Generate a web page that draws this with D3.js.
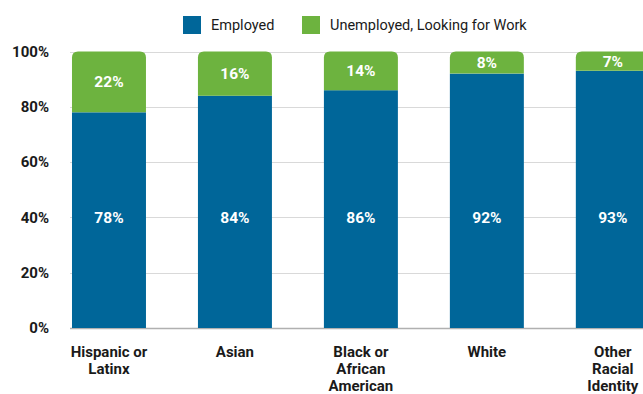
<!DOCTYPE html>
<html>
<head>
<meta charset="utf-8">
<script src="https://cdn.jsdelivr.net/npm/d3@7"></script>
<style>
  html, body { margin: 0; padding: 0; background: #fff; }
  svg { display: block; font-family: Roboto, "Liberation Sans", Arial, sans-serif; }
</style>
</head>
<body>
<svg id="chart" width="643" height="394"></svg>
<script>
// Employment status by racial/ethnic identity (share of respondents)
const categories = [
  ["Hispanic or", "Latinx"],
  ["Asian"],
  ["Black or", "African", "American"],
  ["White"],
  ["Other", "Racial", "Identity"]
];
const employed = [78, 84, 86, 92, 93];
const unemployed = [22, 16, 14, 8, 7];
const yTicks = [0, 20, 40, 60, 80, 100];
const seriesNames = ["Employed", "Unemployed, Looking for Work"];
const colors = ["#006699", "#6db33f"];

const svg = d3.select("#chart");
const W = 643, H = 394;
const margin = { top: 51.5, bottom: 66, left: 70 };

const y = d3.scaleLinear().domain([0, 100]).range([H - margin.bottom, margin.top]);

const x = d3.scaleBand()
  .domain(d3.range(categories.length))
  .range([46.8, 675])
  .paddingInner(0.4127)
  .paddingOuter(0.2);

// gridlines
svg.append("g")
  .selectAll("line")
  .data(yTicks)
  .join("line")
  .attr("x1", margin.left)
  .attr("x2", W)
  .attr("y1", d => Math.round(y(d)) + 0.5)
  .attr("y2", d => Math.round(y(d)) + 0.5)
  .attr("stroke", d => d === 0 ? "#b0b0b0" : "#d9d9d9")
  .attr("stroke-width", d => d === 0 ? 1.5 : 1);

// y axis labels
const yAxis = d3.axisLeft(y).tickValues(yTicks).tickFormat(d => d + "%").tickSize(0).tickPadding(0);
const yg = svg.append("g").attr("transform", "translate(49,0)").call(yAxis);
yg.select(".domain").remove();
yg.selectAll("text")
  .attr("font-family", "Roboto, 'Liberation Sans', Arial, sans-serif")
  .attr("font-size", 15)
  .attr("font-weight", 700)
  .attr("fill", "#1a1a1a")
  .attr("dy", "0.32em");

// rounded-top rectangle path
function topRounded(x0, y0, w, h, r) {
  return `M${x0},${y0 + h}V${y0 + r}Q${x0},${y0} ${x0 + r},${y0}H${x0 + w - r}Q${x0 + w},${y0} ${x0 + w},${y0 + r}V${y0 + h}Z`;
}

const data = categories.map((c, i) => ({ i, emp: employed[i], unemp: unemployed[i] }));

const bars = svg.append("g");
// employed segment
bars.selectAll("rect.emp")
  .data(data)
  .join("rect")
  .attr("class", "emp")
  .attr("x", d => x(d.i))
  .attr("width", x.bandwidth())
  .attr("y", d => y(d.emp))
  .attr("height", d => y(0) - y(d.emp))
  .attr("fill", colors[0]);

// unemployed segment, stacked on top with rounded top corners
bars.selectAll("path.unemp")
  .data(data)
  .join("path")
  .attr("class", "unemp")
  .attr("d", d => topRounded(x(d.i), y(d.emp + d.unemp), x.bandwidth(), y(d.emp) - y(d.emp + d.unemp), 6))
  .attr("fill", colors[1]);

// value labels
const lbl = svg.append("g")
  .attr("font-size", 15.5)
  .attr("font-weight", 700)
  .attr("fill", "#fff")
  .attr("text-anchor", "middle");

lbl.selectAll("text.emp")
  .data(data)
  .join("text")
  .attr("x", d => x(d.i) + x.bandwidth() / 2)
  .attr("y", y(40))
  .attr("dy", "0.35em")
  .text(d => d.emp + "%");

lbl.selectAll("text.unemp")
  .data(data)
  .join("text")
  .attr("x", d => x(d.i) + x.bandwidth() / 2)
  .attr("y", d => (y(d.emp) + y(d.emp + d.unemp)) / 2)
  .attr("dy", "0.35em")
  .text(d => d.unemp + "%");

// category labels
const cat = svg.append("g")
  .attr("font-size", 15)
  .attr("font-weight", 700)
  .attr("fill", "#1a1a1a")
  .attr("text-anchor", "middle");

categories.forEach((lines, i) => {
  const t = cat.append("text")
    .attr("x", x(i) + x.bandwidth() / 2)
    .attr("y", y(0) + 29);
  lines.forEach((ln, k) => {
    t.append("tspan")
      .attr("x", x(i) + x.bandwidth() / 2)
      .attr("dy", k === 0 ? 0 : 17)
      .text(ln);
  });
});

// legend
const legend = svg.append("g").attr("font-size", 14.5).attr("fill", "#1a1a1a");
const legendX = [183, 302];
seriesNames.forEach((name, i) => {
  const g = legend.append("g").attr("transform", `translate(${legendX[i]},16)`);
  g.append("rect").attr("width", 18).attr("height", 18).attr("fill", colors[i]);
  g.append("text").attr("x", 28).attr("y", 9).attr("dy", "0.35em").text(name);
});
</script>
</body>
</html>
